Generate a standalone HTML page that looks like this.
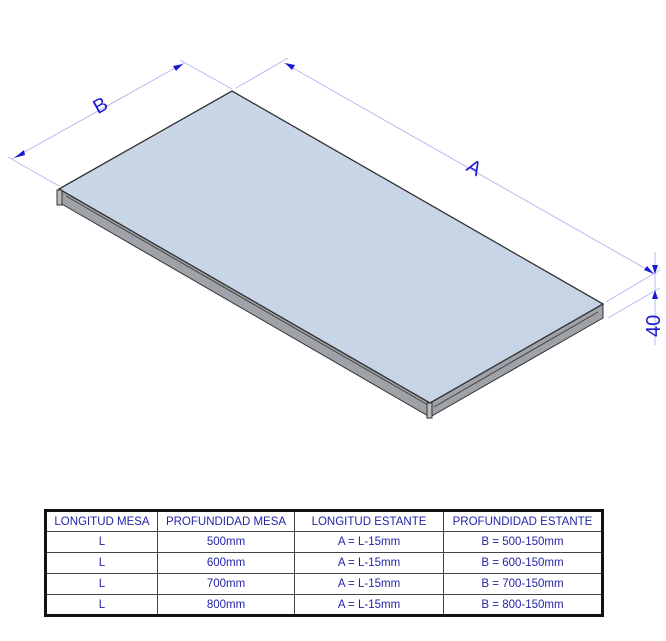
<!DOCTYPE html>
<html><head><style>
body{margin:0;background:#fff;width:666px;height:641px;overflow:hidden;font-family:"Liberation Sans",sans-serif}
</style></head><body>
<svg width="666" height="641" viewBox="0 0 666 641" xmlns="http://www.w3.org/2000/svg" style="position:absolute;left:0;top:0">
<defs><linearGradient id="g" x1="0" y1="0" x2="1" y2="1"><stop offset="0" stop-color="#c9d6e6"/><stop offset="1" stop-color="#c6d4e6"/></linearGradient></defs>
<g stroke="#b8b8f0" stroke-width="1" fill="none">
<line x1="59" y1="186" x2="8" y2="157"/>
<line x1="232" y1="89" x2="180" y2="60"/>
<line x1="236" y1="88" x2="288" y2="58"/>
<line x1="606" y1="302" x2="660" y2="270"/>
<line x1="608" y1="318" x2="660" y2="288"/>
<line x1="12" y1="159" x2="184" y2="63"/>
<line x1="284" y1="63" x2="655" y2="274"/>
<line x1="655" y1="252" x2="655" y2="345"/>
</g>
<g fill="#1a1ad0">
<polygon points="14,158 24,150 25,155"/>
<polygon points="183,64 173,66 176,71"/>
<polygon points="285,63 295,65 292,70"/>
<polygon points="654,274 644,270 647,266"/>
<polygon points="655,274 652,265 658,265"/>
<polygon points="655,290 652,299 658,299"/>
</g>
<polygon points="59,189 60,203 430,417 603,318 603,304 430,403" fill="#9fa3a9" stroke="#333" stroke-width="1"/>
<polygon points="59,189 232,91 603,304 430,403" fill="url(#g)" stroke="#333" stroke-width="1.3"/>
<line x1="66" y1="196" x2="428" y2="405" stroke="#444" stroke-width="1"/>
<line x1="434" y1="407" x2="598" y2="312" stroke="#444" stroke-width="1"/>
<rect x="57" y="190" width="5" height="15" fill="#bbb" stroke="#333" stroke-width="1"/>
<rect x="427" y="403" width="5" height="15" fill="#bbb" stroke="#333" stroke-width="1"/>
<g fill="#1a1ad0" font-family="Liberation Sans,sans-serif" font-size="20">
<text x="93" y="112" transform="rotate(-29 100 104)">B</text>
<text x="468" y="175" transform="rotate(30 476 167)">A</text>
<text x="652" y="345" transform="rotate(-90 652 337)">40</text>
</g>
</svg>
<table style="position:absolute;left:44px;top:509px;width:560px;border-collapse:collapse;border:3px solid #111;font-size:11.5px;color:#2424a8;text-align:center">
<tr style="height:21px"><td style="border:1px solid #444;width:108px">LONGITUD MESA</td><td style="border:1px solid #444;width:134px">PROFUNDIDAD MESA</td><td style="border:1px solid #444;width:146px">LONGITUD ESTANTE</td><td style="border:1px solid #444">PROFUNDIDAD ESTANTE</td></tr>
<tr style="height:21px"><td style="border:1px solid #444">L</td><td style="border:1px solid #444">500mm</td><td style="border:1px solid #444">A = L-15mm</td><td style="border:1px solid #444">B = 500-150mm</td></tr>
<tr style="height:21px"><td style="border:1px solid #444">L</td><td style="border:1px solid #444">600mm</td><td style="border:1px solid #444">A = L-15mm</td><td style="border:1px solid #444">B = 600-150mm</td></tr>
<tr style="height:21px"><td style="border:1px solid #444">L</td><td style="border:1px solid #444">700mm</td><td style="border:1px solid #444">A = L-15mm</td><td style="border:1px solid #444">B = 700-150mm</td></tr>
<tr style="height:21px"><td style="border:1px solid #444">L</td><td style="border:1px solid #444">800mm</td><td style="border:1px solid #444">A = L-15mm</td><td style="border:1px solid #444">B = 800-150mm</td></tr>
</table>
</body></html>
